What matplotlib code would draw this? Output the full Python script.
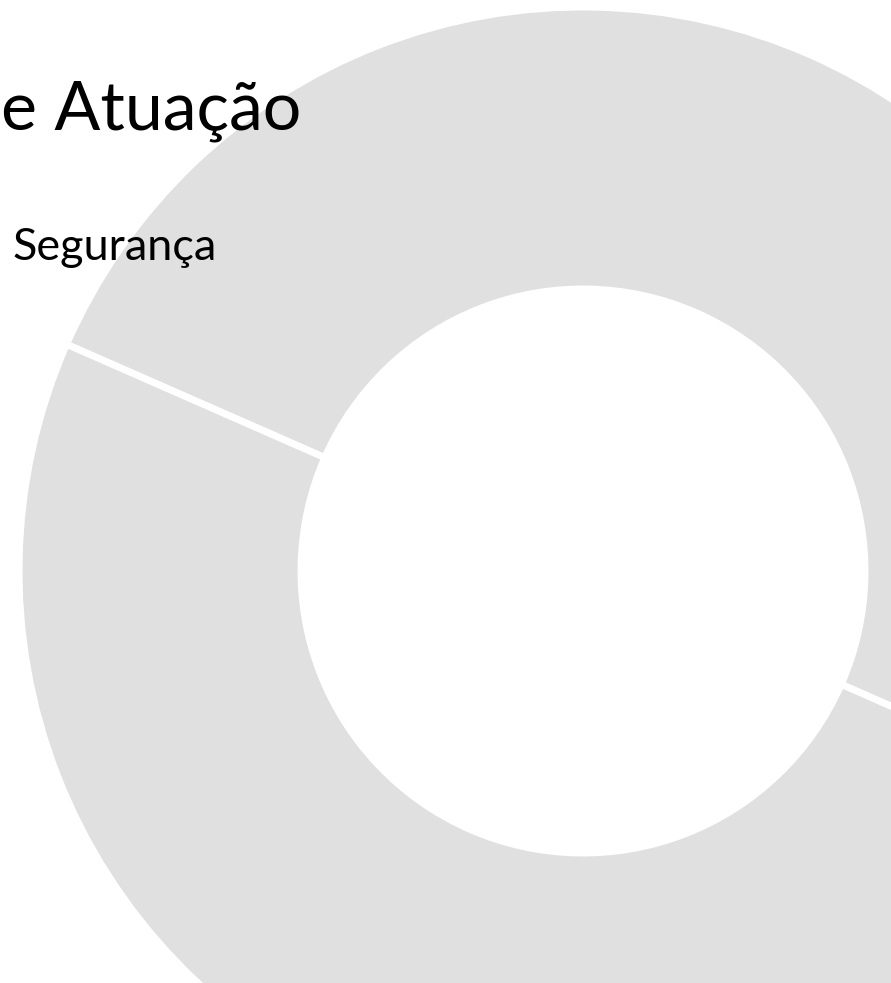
import matplotlib.pyplot as plt

# data
categories = ['Segurança', '']
values = [50, 50]
title = 'e Atuação'

ring_color = '#E0E0E0'

fig = plt.figure(figsize=(8.91, 9.83), dpi=100)
ax = fig.add_axes([0, 0, 1, 1])
ax.set_xlim(0, 891)
ax.set_ylim(983, 0)
ax.set_aspect('equal')
ax.axis('off')

wedges, texts = ax.pie(values, center=(583, 571), radius=564, startangle=203.7,
                       colors=[ring_color] * len(values),
                       wedgeprops=dict(width=282, edgecolor='white', linewidth=5))
ax.set_xlim(0, 891)
ax.set_ylim(983, 0)

# only the end of the title is visible in the reference
ax.text(1, 130, title, fontsize=49, family='Lato', ha='left', va='baseline', color='black')
ax.text(13, 260, categories[0], fontsize=32.4, family='Lato', ha='left', va='baseline', color='black')

fig.savefig('out.png', dpi=100)
